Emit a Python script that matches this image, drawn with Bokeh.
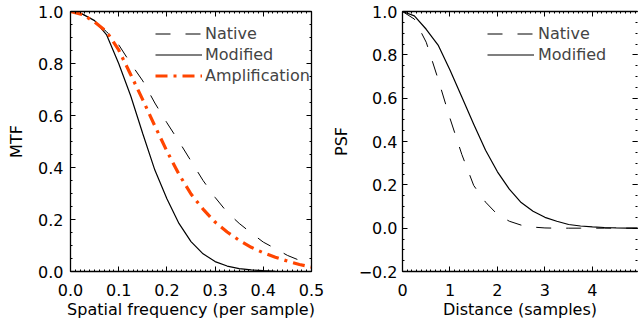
import numpy as np
from bokeh.plotting import figure
from bokeh.layouts import row
from bokeh.models import (Range1d, LinearAxis, FixedTicker, Legend, LegendItem,
                          PrintfTickFormatter, CustomLabelingPolicy)
from bokeh.embed import file_html
from bokeh.resources import INLINE

# ---------------- data ----------------
mtf_freq = [0.0, 0.025, 0.05, 0.075, 0.1, 0.125, 0.15, 0.175, 0.2, 0.225, 0.25,
            0.275, 0.3, 0.325, 0.35, 0.375, 0.4, 0.425, 0.45, 0.475, 0.5]
mtf_native = [1.0, 0.99, 0.962, 0.922, 0.872, 0.80, 0.733, 0.648, 0.572, 0.50, 0.425,
              0.35, 0.285, 0.228, 0.185, 0.148, 0.113, 0.088, 0.062, 0.043, 0.03]
mtf_modified = [1.0, 0.99, 0.965, 0.91, 0.80, 0.675, 0.53, 0.39, 0.28, 0.185, 0.115,
                0.068, 0.038, 0.021, 0.011, 0.006, 0.003, 0.001, 0.0, 0.0, 0.0]
mtf_amplification = [1.0, 0.988, 0.96, 0.922, 0.852, 0.757, 0.66, 0.56, 0.463, 0.374, 0.298,
                     0.24, 0.19, 0.152, 0.12, 0.093, 0.072, 0.055, 0.04, 0.027, 0.017]

psf_dist = [0.0, 0.25, 0.5, 0.75, 1.0, 1.25, 1.5, 1.75, 2.0, 2.25, 2.5, 2.75, 3.0,
            3.25, 3.5, 3.75, 4.0, 4.25, 4.5, 4.75, 5.0]
psf_native = [1.0, 0.965, 0.858, 0.688, 0.507, 0.34, 0.197, 0.12, 0.063, 0.032, 0.014,
              0.005, 0.001, 0.0, 0.0, 0.0, 0.0, 0.0, 0.0, 0.0, 0.0]
psf_modified = [1.0, 0.98, 0.918, 0.845, 0.73, 0.605, 0.48, 0.36, 0.26, 0.18, 0.118,
                0.078, 0.05, 0.032, 0.017, 0.01, 0.006, 0.003, 0.001, 0.0, 0.0]

left_xticks = [0.0, 0.1, 0.2, 0.3, 0.4, 0.5]
left_xlabels = ["0.0", "0.1", "0.2", "0.3", "0.4", "0.5"]
left_yticks = [0.0, 0.2, 0.4, 0.6, 0.8, 1.0]
left_ylabels = ["0.0", "0.2", "0.4", "0.6", "0.8", "1.0"]
right_xticks = [0, 1, 2, 3, 4, 5]
right_xlabels = ["0", "1", "2", "3", "4", "5"]
right_yticks = [-0.2, 0.0, 0.2, 0.4, 0.6, 0.8, 1.0]
right_ylabels = ["\u22120.2", "0.0", "0.2", "0.4", "0.6", "0.8", "1.0"]

legend_left = ["Native", "Modified", "Amplification"]
legend_right = ["Native", "Modified"]

# ---------------- style ----------------
FONT = "DejaVu Sans"
FS = "16px"
RED = "#FF4500"
H = 321

HIDE_ALL = "for (const i of indices) { indices.unset(i) }"


def style_axis(ax, ticker, labels=None, ticks=None, show_labels=True):
    ax.ticker = ticker
    ax.axis_line_color = "black"
    ax.axis_line_width = 1.3
    ax.major_tick_in = 5
    ax.major_tick_out = 0
    ax.minor_tick_in = 2
    ax.minor_tick_out = 0
    ax.major_tick_line_color = "black"
    ax.minor_tick_line_color = "black"
    ax.major_label_text_font = FONT
    ax.major_label_text_color = "black"
    ax.axis_label_text_font = FONT
    ax.axis_label_text_font_size = FS
    ax.axis_label_text_font_style = "normal"
    ax.axis_label_text_color = "black"
    if show_labels:
        ax.major_label_text_font_size = FS
        if labels is not None:
            ax.major_label_overrides = {t: l for t, l in zip(ticks, labels)}
    else:
        ax.major_label_text_font_size = "1px"
        ax.major_label_standoff = 0
        ax.major_label_policy = CustomLabelingPolicy(code=HIDE_ALL)


def make_fig(width, border_left, border_right, xr, yr):
    p = figure(width=width, height=H, x_range=xr, y_range=yr,
               output_backend="svg", toolbar_location=None,
               x_axis_location=None, y_axis_location=None,
               min_border_left=border_left, min_border_right=border_right,
               min_border_top=11, min_border_bottom=50)
    p.outline_line_color = None
    p.xgrid.visible = False
    p.ygrid.visible = False
    p.background_fill_color = "white"
    p.border_fill_color = "white"
    return p


def add_axes(p, xt, xminor, xlabels, yt, yminor, ylabels, xtitle, ytitle,
             xfmt, yfmt, ylabel_standoff, ytitle_standoff):
    bx = LinearAxis(axis_label=xtitle, formatter=xfmt)
    style_axis(bx, FixedTicker(ticks=xt, minor_ticks=xminor), xlabels, xt)
    bx.major_label_standoff = 12
    bx.axis_label_standoff = 1
    p.add_layout(bx, "below")
    tx = LinearAxis()
    style_axis(tx, FixedTicker(ticks=xt, minor_ticks=xminor), show_labels=False)
    p.add_layout(tx, "above")
    ly = LinearAxis(axis_label=ytitle, formatter=yfmt)
    style_axis(ly, FixedTicker(ticks=yt, minor_ticks=yminor), ylabels, yt)
    ly.major_label_standoff = ylabel_standoff
    ly.axis_label_standoff = ytitle_standoff
    p.add_layout(ly, "left")
    ry = LinearAxis()
    style_axis(ry, FixedTicker(ticks=yt, minor_ticks=yminor), show_labels=False)
    p.add_layout(ry, "right")
    return ry


# ---------------- left panel: MTF ----------------
p1 = make_fig(328, 70, 17, Range1d(0, 0.5), Range1d(0, 1.0))
add_axes(p1, left_xticks, list(np.round(np.arange(0, 0.5001, 0.01), 3)), left_xlabels,
         left_yticks, list(np.round(np.arange(0, 1.0001, 0.05), 3)), left_ylabels,
         "Spatial frequency (per sample)", "MTF",
         PrintfTickFormatter(format="%.1f"), PrintfTickFormatter(format="%.1f"), 7, 9)

r_nat = p1.line(mtf_freq, mtf_native, line_color="black", line_width=1, line_dash="15 15")
r_mod = p1.line(mtf_freq, mtf_modified, line_color="black", line_width=1.2)
r_amp = p1.line(mtf_freq, mtf_amplification, line_color=RED, line_width=3.2,
                line_dash="12 6 3 6")

leg1 = Legend(items=[LegendItem(label=legend_left[0], renderers=[r_nat]),
                     LegendItem(label=legend_left[1], renderers=[r_mod]),
                     LegendItem(label=legend_left[2], renderers=[r_amp])],
              location=(85, 185), glyph_width=47, glyph_height=21, label_height=21,
              label_standoff=3, spacing=0, padding=0, margin=0,
              border_line_color=None, background_fill_alpha=0,
              label_text_font=FONT, label_text_font_size=FS)
p1.add_layout(leg1)

# ---------------- right panel: PSF ----------------
p2 = make_fig(314, 74, 0, Range1d(0, 4.95), Range1d(-0.2, 1.0))
add_axes(p2, right_xticks, list(np.round(np.arange(0, 5.0001, 0.1), 3)), right_xlabels,
         right_yticks, list(np.round(np.arange(-0.2, 1.0001, 0.05), 3)), right_ylabels,
         "Distance (samples)", "PSF",
         PrintfTickFormatter(format="%d"), PrintfTickFormatter(format="%.1f"), 5, 5)
# the right edge of this panel is cut by the picture: no visible frame line there
p2.right[0].axis_line_color = None

r2_nat = p2.line(psf_dist, psf_native, line_color="black", line_width=1, line_dash="15 15")
r2_mod = p2.line(psf_dist, psf_modified, line_color="black", line_width=1.2)

leg2 = Legend(items=[LegendItem(label=legend_right[0], renderers=[r2_nat]),
                     LegendItem(label=legend_right[1], renderers=[r2_mod])],
              location=(85, 206), glyph_width=47, glyph_height=21, label_height=21,
              label_standoff=4, spacing=0, padding=0, margin=0,
              border_line_color=None, background_fill_alpha=0,
              label_text_font=FONT, label_text_font_size=FS)
p2.add_layout(leg2)

layout = row(p1, p2)
layout.spacing = 0
open("out.html", "w").write(file_html(layout, INLINE))
